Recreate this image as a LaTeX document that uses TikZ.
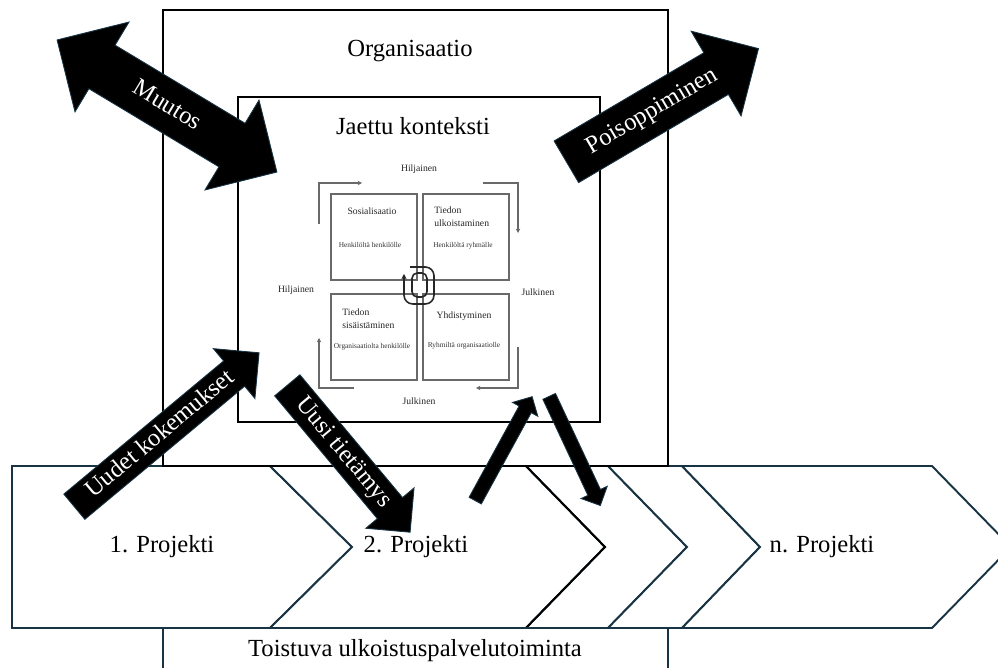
\documentclass[tikz,border=0pt]{standalone}
\usepackage{fontspec}
\setmainfont{Liberation Serif}
\usetikzlibrary{shapes.arrows,arrows.meta,shadows}

\definecolor{chevline}{RGB}{24,52,68}
\definecolor{seciline}{RGB}{105,105,105}

\begin{document}
\begin{tikzpicture}[x=0.02cm, y=-0.02cm]

	\tikzstyle{frame}=[draw=black, line width=1.1pt]
	\tikzstyle{chevron}=[draw=chevline, fill=white, line width=1.1pt]
	\tikzstyle{big_label}=[font=\fontsize{14}{16}\selectfont]
	\tikzstyle{seci_box}=[draw=seciline, fill=white, line width=0.9pt, minimum width=1.72cm, minimum height=1.72cm, drop shadow={shadow xshift=0.7pt, shadow yshift=-0.7pt, fill=black!30, opacity=1}]
	\tikzstyle{seci_title}=[font=\fontsize{5.5}{7.4}\selectfont, text=black!85, align=left, inner sep=0pt]
	\tikzstyle{seci_sub}=[font=\fontsize{4.2}{5}\selectfont, text=black!80, inner sep=0pt]
	\tikzstyle{seci_axis}=[font=\fontsize{5.5}{6}\selectfont, text=black!85, inner sep=0pt]
	\tikzstyle{seci_arrow}=[draw=seciline, line width=0.6pt, -{Stealth[length=2.5pt, width=2.5pt]}]
	\tikzstyle{spiral}=[draw=black!85, line width=0.9pt]
	\tikzstyle{block_arrow}=[fill=black, draw=chevline, line width=0.5pt, text=white, font=\fontsize{14}{16}\selectfont, text height=9.5pt, text depth=2.5pt, inner xsep=2pt]
	\tikzstyle{thin_arrow}=[single arrow, fill=black, draw=chevline, line width=0.5pt, text height=0pt, text depth=0pt, inner xsep=0pt, inner ysep=3.7pt, single arrow head extend=0.15cm, anchor=tail]

	\clip (0,0) rectangle (998,668);

	% project chevrons
	\draw[chevron] (12,466) -- (270,466) -- (352,547) -- (270,628) -- (12,628) -- cycle;
	\draw[chevron] (270,466) -- (526,466) -- (605,547) -- (526,628) -- (270,628) -- (352,547) -- cycle;
	\draw[chevron] (526,466) -- (608,466) -- (687,547) -- (608,628) -- (526,628) -- (605,547) -- cycle;
	\draw[chevron] (608,466) -- (682,466) -- (760,547) -- (682,628) -- (608,628) -- (687,547) -- cycle;
	\draw[chevron] (682,466) -- (932,466) -- (1011,547) -- (932,628) -- (682,628) -- (760,547) -- cycle;
	\draw[draw=black, line width=1.1pt] (526,466) -- (605,547) -- (526,628);

	\node[big_label] (projekti_1) at (162,547) {1. Projekti};
	\node[big_label] (projekti_2) at (416,547) {2. Projekti};
	\node[big_label] (projekti_n) at (822,547) {n. Projekti};

	% frames
	\draw[frame] (163,10) rectangle (668,466);
	\draw[frame] (238,97) rectangle (600,422);
	\draw[draw=chevline, line width=1.1pt] (163,690) |- (668,628) -- (668,690);

	\node[big_label] (organisaatio) at (410,51) {Organisaatio};
	\node[big_label] (konteksti) at (413,126) {Jaettu konteksti};
	\node[big_label] (toistuva) at (415,651) {Toistuva ulkoistuspalvelutoiminta};

	% SECI model
	\node[seci_box] (sosialisaatio) at (374,237) {};
	\node[seci_box] (ulkoistaminen) at (466,237) {};
	\node[seci_box] (sisaistaminen) at (374,337) {};
	\node[seci_box] (yhdistyminen) at (466,337) {};

	\node[seci_title] at (372,211) {Sosialisaatio};
	\node[seci_title, anchor=west] at (434,216.5) {Tiedon\\ulkoistaminen};
	\node[seci_title, anchor=west] at (342,318.5) {Tiedon\\sisäistäminen};
	\node[seci_title] at (464,316) {Yhdistyminen};

	\node[seci_sub] at (370,245) {Henkilöltä henkilölle};
	\node[seci_sub] at (463,246) {Henkilöltä ryhmälle};
	\node[seci_sub] at (372,347) {Organisaatiolta henkilölle};
	\node[seci_sub] at (464,346) {Ryhmiltä organisaatiolle};

	\node[seci_axis] (hiljainen_top) at (419,169) {Hiljainen};
	\node[seci_axis] (hiljainen_left) at (296,290) {Hiljainen};
	\node[seci_axis] (julkinen_right) at (538,292) {Julkinen};
	\node[seci_axis] (julkinen_bottom) at (419,401) {Julkinen};

	\draw[seci_arrow] (319,224) |- (362,183);
	\draw[seci_arrow] (483,183) -| (518,233);
	\draw[seci_arrow] (518,347) |- (476,388);
	\draw[seci_arrow] (354,388) -| (319,338);

	\draw[spiral, rounded corners=3pt] (412,273) rectangle (427,297);
	\draw[spiral, rounded corners=5pt, -{Stealth[length=3pt, width=3pt]}] (410,267) -- (434,267) -- (434,304) -- (404,304) -- (404,274);

	% block arrows
	\node[block_arrow, double arrow, double arrow head extend=0.54cm, minimum height=5.13cm, inner ysep=8.2pt, rotate=-31] (muutos) at (167,106) {Muutos};
	\node[block_arrow, single arrow, single arrow head extend=0.5cm, minimum height=4.46cm, inner ysep=7.5pt, rotate=30.5, anchor=tail] (poisoppiminen) at (566,162) {Poisoppiminen};
	\node[block_arrow, single arrow, single arrow head extend=0.32cm, minimum height=4.81cm, inner ysep=3.1pt, rotate=39.8, anchor=tail] (kokemukset) at (74,507) {Uudet kokemukset};
	\node[block_arrow, single arrow, single arrow head extend=0.3cm, minimum height=3.83cm, inner ysep=3.1pt, rotate=-50.1, anchor=tail] (tietamys) at (287,385) {Uusi tietämys};

	\node[thin_arrow, minimum height=2.37cm, rotate=61.3] (arrow_up) at (475,501) {};
	\node[thin_arrow, minimum height=2.41cm, rotate=-64.9] (arrow_down) at (549,396) {};
\end{tikzpicture}
\end{document}
